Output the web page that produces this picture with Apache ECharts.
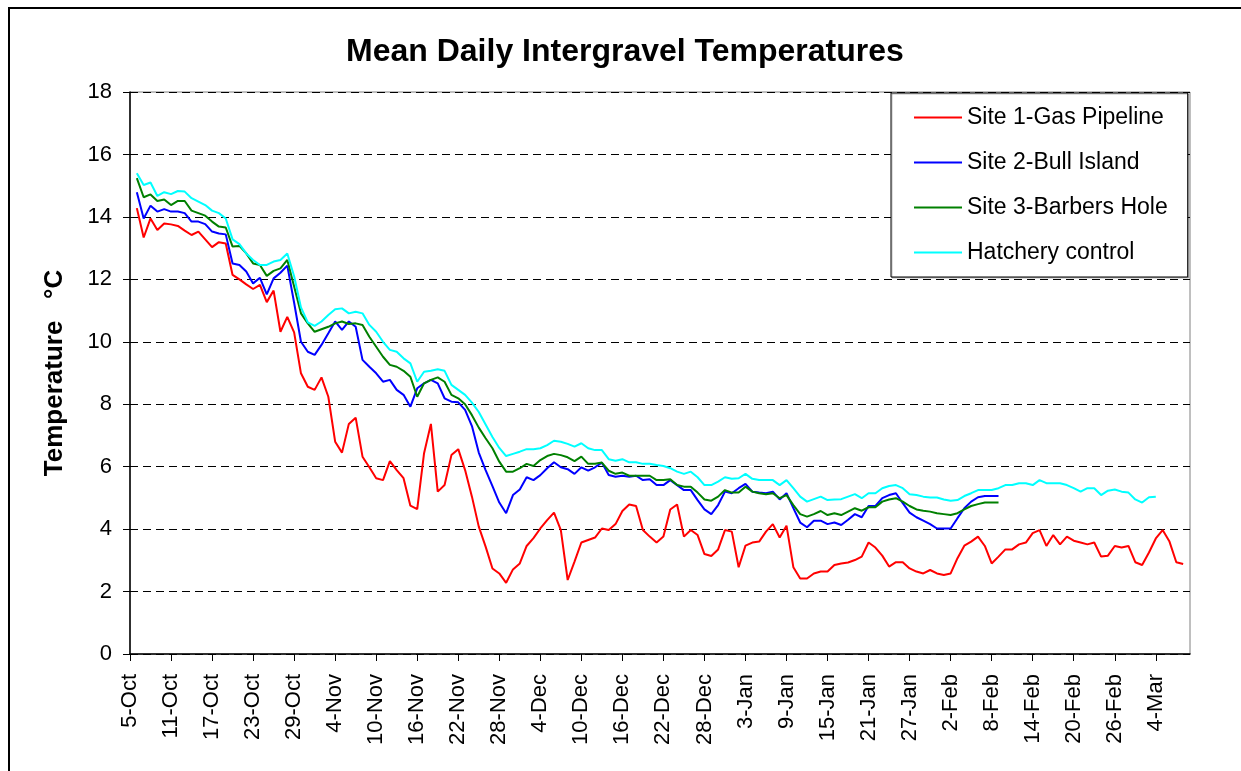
<!DOCTYPE html>
<html>
<head>
<meta charset="utf-8">
<script src="https://cdn.jsdelivr.net/npm/echarts@6/dist/echarts.min.js"></script>
<style>
  html, body { margin: 0; padding: 0; background: #fff; }
  #chart { width: 1241px; height: 771px; }
</style>
</head>
<body>
<div id="chart"></div>
<script>
// daily categories, 5-Oct .. 9-Mar
const months = [["Oct", 5, 31], ["Nov", 1, 30], ["Dec", 1, 31], ["Jan", 1, 31], ["Feb", 1, 28], ["Mar", 1, 9]]
const days = []
for (const [m, a, b] of months) {
  for (let d = a; d <= b; d++) days.push(d + "-" + m)
}

const yTicks = [0, 2, 4, 6, 8, 10, 12, 14, 16, 18]

// readings start on 6-Oct (one day after the first category)
const site1 = [
  14.28, 13.34, 13.95, 13.58, 13.79, 13.76, 13.71, 13.56, 13.42, 13.53,
  13.28, 13.03, 13.19, 13.15, 12.14, 12.0, 11.84, 11.69, 11.82, 11.27,
  11.64, 10.32, 10.80, 10.30, 8.99, 8.56, 8.46, 8.86, 8.24, 6.80,
  6.45, 7.37, 7.57, 6.32, 5.98, 5.63, 5.57, 6.18, 5.89, 5.63,
  4.75, 4.64, 6.43, 7.37, 5.20, 5.41, 6.37, 6.56, 5.89, 5.04,
  4.08, 3.44, 2.74, 2.58, 2.28, 2.71, 2.90, 3.46, 3.71, 4.02,
  4.29, 4.53, 3.97, 2.37, 2.96, 3.57, 3.65, 3.73, 4.02, 3.97,
  4.16, 4.58, 4.79, 4.74, 3.97, 3.76, 3.57, 3.76, 4.63, 4.79,
  3.76, 3.97, 3.81, 3.20, 3.14, 3.35, 3.97, 3.92, 2.78, 3.47,
  3.57, 3.60, 3.92, 4.16, 3.73, 4.11, 2.78, 2.42, 2.42, 2.58,
  2.64, 2.64, 2.85, 2.90, 2.93, 3.01, 3.12, 3.57, 3.41, 3.15,
  2.80, 2.94, 2.94, 2.74, 2.64, 2.58, 2.69, 2.58, 2.53, 2.58,
  3.07, 3.47, 3.60, 3.76, 3.46, 2.90, 3.12, 3.35, 3.35, 3.51,
  3.57, 3.87, 3.97, 3.46, 3.81, 3.51, 3.76, 3.63, 3.57, 3.51,
  3.57, 3.12, 3.15, 3.46, 3.41, 3.46, 2.94, 2.85, 3.25, 3.70,
  3.97, 3.60, 2.94, 2.88
]
const site2 = [
  14.79, 13.95, 14.36, 14.17, 14.25, 14.17, 14.17, 14.12, 13.85, 13.85,
  13.77, 13.53, 13.47, 13.44, 12.51, 12.46, 12.25, 11.87, 12.05, 11.52,
  12.03, 12.21, 12.44, 11.25, 10.0, 9.68, 9.58, 9.90, 10.27, 10.65,
  10.38, 10.65, 10.48, 9.42, 9.20, 8.99, 8.72, 8.78, 8.46, 8.30,
  7.92, 8.51, 8.67, 8.78, 8.67, 8.19, 8.08, 8.06, 7.82, 7.30,
  6.45, 5.89, 5.38, 4.85, 4.51, 5.09, 5.27, 5.66, 5.57, 5.73,
  5.95, 6.14, 5.98, 5.92, 5.77, 5.98, 5.87, 5.98, 6.13, 5.73,
  5.68, 5.71, 5.68, 5.71, 5.57, 5.60, 5.41, 5.41, 5.57, 5.41,
  5.25, 5.25, 4.93, 4.63, 4.48, 4.77, 5.20, 5.15, 5.31, 5.45,
  5.20, 5.17, 5.15, 5.20, 4.95, 5.15, 4.67, 4.21, 4.06, 4.27,
  4.27, 4.16, 4.21, 4.13, 4.30, 4.48, 4.38, 4.74, 4.74, 4.99,
  5.09, 5.15, 4.83, 4.53, 4.38, 4.27, 4.16, 4.02, 4.02, 4.02,
  4.35, 4.67, 4.88, 5.02, 5.06, 5.06, 5.06
]
const site3 = [
  15.24, 14.63, 14.72, 14.51, 14.56, 14.38, 14.51, 14.51, 14.20, 14.12,
  14.04, 13.85, 13.69, 13.66, 13.05, 13.07, 12.83, 12.51, 12.46, 12.11,
  12.27, 12.35, 12.62, 11.77, 10.91, 10.59, 10.32, 10.40, 10.48, 10.59,
  10.65, 10.57, 10.59, 10.54, 10.16, 9.84, 9.52, 9.26, 9.20, 9.07,
  8.88, 8.24, 8.67, 8.78, 8.86, 8.72, 8.30, 8.19, 8.00, 7.65,
  7.25, 6.91, 6.59, 6.16, 5.84, 5.84, 5.95, 6.09, 6.02, 6.21,
  6.34, 6.41, 6.37, 6.30, 6.18, 6.32, 6.09, 6.09, 6.13, 5.87,
  5.77, 5.81, 5.71, 5.71, 5.71, 5.71, 5.57, 5.57, 5.60, 5.41,
  5.36, 5.36, 5.17, 4.95, 4.91, 5.04, 5.25, 5.17, 5.17, 5.36,
  5.20, 5.15, 5.12, 5.15, 4.99, 5.09, 4.77, 4.48, 4.40, 4.48,
  4.58, 4.45, 4.51, 4.45, 4.56, 4.67, 4.59, 4.70, 4.70, 4.88,
  4.95, 4.99, 4.88, 4.74, 4.63, 4.59, 4.56, 4.51, 4.48, 4.45,
  4.51, 4.63, 4.74, 4.80, 4.85, 4.85, 4.85
]
const hatchery = [
  15.40, 15.02, 15.10, 14.67, 14.79, 14.73, 14.83, 14.81, 14.60, 14.49,
  14.38, 14.20, 14.12, 13.95, 13.28, 13.13, 12.83, 12.62, 12.46, 12.46,
  12.57, 12.62, 12.83, 12.10, 11.10, 10.62, 10.51, 10.65, 10.86, 11.04,
  11.07, 10.91, 10.96, 10.91, 10.54, 10.32, 10.00, 9.74, 9.68, 9.47,
  9.31, 8.72, 9.04, 9.07, 9.12, 9.07, 8.62, 8.46, 8.30, 8.05,
  7.75, 7.35, 6.95, 6.60, 6.34, 6.41, 6.48, 6.56, 6.56, 6.59,
  6.69, 6.83, 6.80, 6.73, 6.64, 6.75, 6.59, 6.53, 6.53, 6.24,
  6.19, 6.24, 6.14, 6.14, 6.09, 6.09, 6.05, 6.02, 5.95, 5.84,
  5.77, 5.84, 5.66, 5.41, 5.41, 5.52, 5.66, 5.61, 5.63, 5.77,
  5.61, 5.57, 5.57, 5.57, 5.41, 5.57, 5.31, 5.04, 4.88, 4.96,
  5.04, 4.93, 4.95, 4.96, 5.04, 5.12, 4.99, 5.15, 5.15, 5.31,
  5.38, 5.41, 5.31, 5.12, 5.09, 5.04, 5.01, 5.01, 4.95, 4.91,
  4.93, 5.06, 5.15, 5.25, 5.25, 5.25, 5.31, 5.41, 5.41, 5.47,
  5.47, 5.41, 5.57, 5.47, 5.47, 5.47, 5.41, 5.31, 5.20, 5.31,
  5.31, 5.09, 5.23, 5.27, 5.20, 5.17, 4.95, 4.85, 5.02, 5.04
]

const seriesNames = ["Site 1-Gas Pipeline", "Site 2-Bull Island", "Site 3-Barbers Hole", "Hatchery control"]
const seriesColors = ["#ff0000", "#0000ff", "#008000", "#00ffff"]
const seriesData = [site1, site2, site3, hatchery]

const font = "'Liberation Sans', Arial, sans-serif"

const chart = echarts.init(document.getElementById("chart"))

chart.setOption({
  animation: false,
  textStyle: {fontFamily: font, color: "#000"},
  title: {
    text: "Mean Daily Intergravel Temperatures",
    left: 346,
    top: 36,
    padding: 0,
    textStyle: {fontFamily: font, fontSize: 32, fontWeight: "bold", color: "#000"},
  },
  graphic: [{
    type: "rect",
    shape: {x: 9, y: 8, width: 1300, height: 900},
    style: {fill: null, stroke: "#000", lineWidth: 2},
    silent: true,
  }],
  grid: {
    left: 130,
    top: 92,
    right: 51,
    bottom: 117,
    show: true,
    borderColor: "#808080",
    borderWidth: 1,
    backgroundColor: "#fff",
  },
  legend: {
    orient: "vertical",
    left: 891,
    top: 93,
    padding: [12, 20, 12, 23],
    itemGap: 20,
    itemWidth: 48,
    itemHeight: 2,
    icon: "rect",
    backgroundColor: "#fff",
    borderColor: "#000",
    borderWidth: 1,
    shadowColor: "rgba(0,0,0,0.25)",
    shadowOffsetX: 1,
    shadowOffsetY: 1,
    textStyle: {fontFamily: font, fontSize: 23, color: "#000", lineHeight: 25},
    data: seriesNames,
  },
  xAxis: {
    type: "category",
    data: days,
    boundaryGap: false,
    axisLine: {lineStyle: {color: "#000", width: 1.5}},
    axisTick: {show: true, interval: 5, length: 7, lineStyle: {color: "#000"}},
    axisLabel: {interval: 5, rotate: 90, margin: 20, fontFamily: font, fontSize: 22, color: "#000"},
    splitLine: {show: false},
  },
  yAxis: {
    type: "value",
    min: yTicks[0],
    max: yTicks[yTicks.length - 1],
    interval: 2,
    name: "Temperature   °C",
    nameLocation: "middle",
    nameGap: 62,
    nameTextStyle: {fontFamily: font, fontSize: 26, fontWeight: "bold", color: "#000"},
    axisLine: {show: true, lineStyle: {color: "#000", width: 1.5}},
    axisTick: {show: true, length: 7, lineStyle: {color: "#000"}},
    axisLabel: {margin: 18, fontFamily: font, fontSize: 22, color: "#000"},
    splitLine: {lineStyle: {color: "#000", type: [8, 5], width: 1}},
  },
  series: seriesData.map((vals, i) => ({
    name: seriesNames[i],
    type: "line",
    data: [null].concat(vals),
    symbol: "none",
    color: seriesColors[i],
    lineStyle: {width: 2, color: seriesColors[i]},
    connectNulls: false,
  })),
})
</script>
</body>
</html>
